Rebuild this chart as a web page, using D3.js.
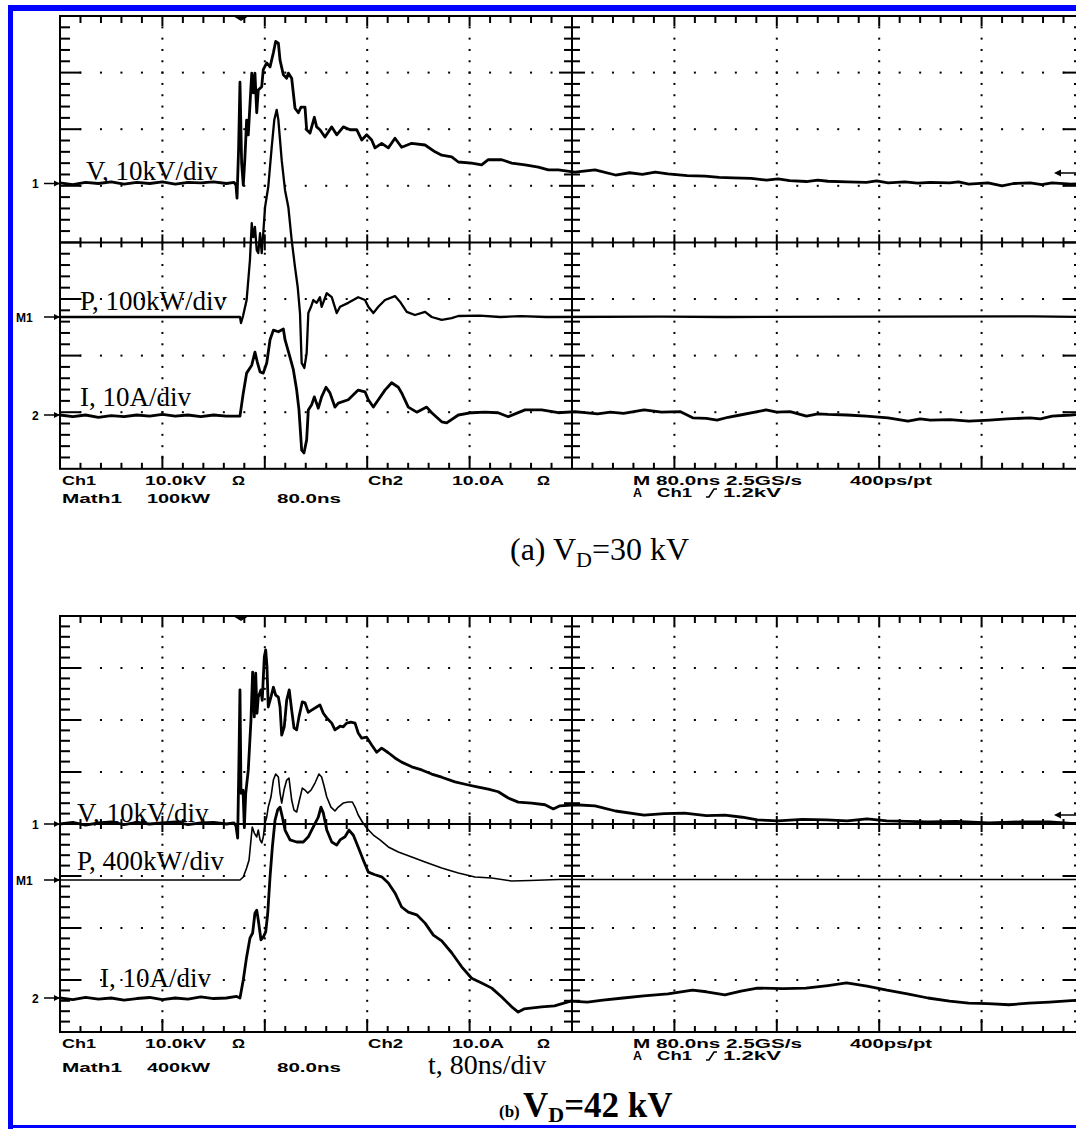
<!DOCTYPE html>
<html><head><meta charset="utf-8">
<script src="https://cdn.jsdelivr.net/npm/d3@7"></script>
<style>body{margin:0;background:#fff}svg{display:block}</style>
</head><body><svg id="c" width="1076" height="1129"></svg>
<script>
// ---------- DATA (time in ns, V in kV, P in kW, I in A) ----------
const timeSpan = [0, 800];            // 10 div x 80 ns
const voltsPerDiv = 10, ampsPerDiv = 10;
const powerPerDivA = 100, powerPerDivB = 400;

const vA = [[0,0.1],[10,-0.2],[20,0.2],[30,0],[40,0.3],[50,-0.1],[60,0.2],[70,0],[80,0.3],[90,-0.1],[100,0.2],[110,0.1],[120,0.3],[130,0],[136,0.2],
[137.5,-0.3],[138.3,-2.6],[139.5,5.9],[140.6,17.9],[141.9,3.6],[143.2,-0.3],[144.5,4.7],[145.8,11.2],[147.1,8.6],[149.8,19.5],[151,16],[152.3,19.5],[153.7,12.5],[154.9,16.5],[157.6,17.1],[158.8,20.1],[161.5,21.3],[164.1,20.6],[166.7,23.1],[168.5,25.1],[170.6,24.8],[171.9,21.8],[174.5,19.2],[177.1,18.6],[178.4,19.5],[181,18.6],[183.6,13.3],[186.2,12.5],[188.3,13.5],[191.4,13.5],[192.7,9.5],[195.3,8.9],[198.7,11.7],[200.5,10],[203.1,9.5],[207,8.2],[212.3,10],[216.2,8.6],[221.4,10],[226.6,9.5],[231.8,9.5],[235.7,7.7],[239.6,8.6],[243.5,7.7],[246.1,6.3],[251.3,7.1],[256.5,6.3],[261.7,8],[266.9,6.4],[274.8,7.1],[285.2,6.8],[293,5.6],[298.2,5],[306,4.7],[311.2,3.8],[321.6,3.6],[329.4,3.3],[334.6,4.2],[345.1,4.2],[352.9,3.6],[363.3,3.3],[373.7,2.9],[381.5,2.4],[389.3,2.4],[402.3,2],[418,2.4],[434,1.5],[445,1.9],[455,1.6],[465,2.0],[475,1.7],[490,1.4],[504,1.3],[515,1.1],[526,1],[540,0.9],[552,0.6],[561,0.8],[570,0.5],[583,0.35],[592,0.6],[600,0.4],[615,0.27],[630,0.2],[638,0.45],[647,0.1],[660,0.3],[670,0.05],[680,0.2],[695,0.1],[702,0.3],[710,-0.1],[725,0.1],[736,-0.4],[745,0],[758,0.1],[767,-0.2],[775,0.1],[790,-0.1],[800,0]];

const pA = [[0,0],[140.6,0],[141.4,-10.6],[143,1.8],[145.8,30],[148.4,100.7],[149.8,166],[151,141],[152.3,159],[153.7,118],[154.9,113],[156.3,148],[157.6,113],[158.8,148],[160.2,194],[162.7,230],[165.4,300],[167.4,348],[169.3,366],[170.6,348],[173.2,277],[175.8,224],[178.4,194],[181,136],[183.6,88],[185.7,53],[187.5,7],[188.8,-81],[190.9,-90],[192.7,-64],[194,7],[196.1,18],[197.9,30],[200.5,25],[203.1,35],[204.4,18],[208.4,42],[212.3,35],[216.2,7],[218.8,18],[225.2,25],[233,35],[238.3,30],[240.9,18],[244.8,7],[248.7,18],[253.9,30],[261.7,37],[265.6,27],[270.9,9],[277.3,3.5],[285.2,9],[290.4,0],[298.2,-5],[306,-2],[311.2,1.8],[328,2.6],[343.8,0],[360,1.5],[380,0],[470,0.5],[520,0],[760,1],[800,0]];

const iA = [[0,0],[10,-0.3],[20,0],[30,-0.4],[40,-0.1],[50,-0.3],[60,0],[70,-0.2],[80,0.1],[90,-0.2],[100,0],[110,-0.3],[120,0],[130,-0.2],[140.6,-0.2],[143.2,3.9],[145.8,7.4],[149.8,8.8],[152.3,11.1],[154.1,9.4],[156.3,7.6],[158.8,7.4],[161.5,9.2],[164.1,13.3],[166.7,15],[170.6,14.7],[174.5,15.2],[175.8,13.3],[179.7,10.2],[182.3,8],[184.9,4.4],[186.7,0.9],[188.8,-6.2],[190.6,-6.7],[192.7,-4.4],[194,0.9],[196.6,1.8],[198.7,3.2],[201.8,1.2],[204.4,3.2],[207.8,4.9],[210.9,3.9],[214.8,1.4],[217.4,2.1],[225.2,2.7],[233,4.4],[238.3,4.1],[240.9,2.7],[244.8,1.4],[248.7,2.7],[253.9,4.4],[259.1,5.7],[264.3,4.9],[266.9,3.9],[272.1,1.4],[278.7,0.5],[286.5,1.4],[290.4,0.4],[298.2,-1.2],[302.1,-1.4],[311.2,0],[321.6,0.4],[332,0.5],[342.2,0.4],[350.2,-0.3],[363.3,0.9],[376.3,0.9],[389.3,0.4],[402.3,0.6],[420,0.2],[430,0.5],[440.3,0.3],[456.3,0.9],[470,0.5],[484.4,0.6],[494.3,-0.5],[505,-0.6],[513.3,-0.9],[522,-0.4],[531.3,0],[551.6,0.9],[560,0.5],[570.3,0.6],[583.2,-0.2],[592,0.2],[600,0.1],[614.8,0],[630,-0.2],[646.9,-0.5],[662.5,-1.1],[672,-0.7],[680,-0.9],[695.3,-0.8],[710,-1.1],[726.2,-0.9],[740,-0.7],[757.8,-0.5],[766,-0.7],[775,-0.2],[789.8,0],[800,0.2]];

const vB = [[0,0],[10,0.3],[20,-0.2],[30,0.2],[40,0.4],[50,-0.1],[60,0.3],[70,0],[80,0.2],[90,0.4],[100,-0.1],[110,0.2],[120,0.3],[130,0],[136,0.2],[137.5,-0.4],[138.8,-2.7],[139.8,12.3],[140.6,25.8],[141.4,5.9],[143,6.5],[144,-0.6],[145.1,5.9],[147.1,10.4],[149.2,20],[150.5,29.2],[151.8,20.6],[152.9,29],[153.9,21.3],[154.9,24.4],[157,25.8],[158,23.8],[159.6,32.1],[160.7,33.5],[161.7,30.2],[162.7,22.5],[164.8,24.4],[166.7,26.3],[168.5,24.8],[170.6,24.4],[171.9,22.5],[173.2,17.1],[175.2,18.7],[177.1,23.8],[179.1,25.8],[181,21.9],[182.8,18.5],[184.9,18.1],[186.7,20.6],[189.3,23.5],[191.4,23.3],[194,21.5],[196.6,21.9],[200.5,22.5],[203.1,22.9],[205.7,21.3],[208.4,20.4],[212.3,19.4],[214.8,18.1],[218.8,18.8],[221.3,18.7],[223.9,19.4],[227.3,19.6],[230.5,19.4],[233,17.5],[235.7,16.5],[239.6,16.7],[243.5,15.2],[247.4,13.8],[251.3,14.6],[256.5,13.7],[261.7,12.7],[266.9,11.9],[274.8,11],[282.6,10.4],[290.4,9.6],[298.2,9],[308.6,8.1],[319,7.5],[326.8,7.1],[334.6,6.7],[342.4,6.2],[350.2,5],[358,4.2],[368.5,4],[378.9,3.7],[385.4,2.9],[390.6,3.5],[402.3,3.7],[418,3.5],[434,2.5],[456.3,1.7],[472,2.0],[487.9,2.1],[505,1.6],[519.5,1.7],[533,1.3],[544.9,0.8],[560.9,0.6],[580,0.9],[598.8,0.8],[615,0.6],[630.5,1],[646,0.6],[662,0.5],[678.1,0.4],[700,0.5],[725.8,0.2],[750,0.4],[773,0.4],[790,0.1],[800,0.2]];

const pB = [[0,0],[140.6,0],[143.2,23],[145.8,92],[147.7,154],[149.2,308],[150.2,408],[151.8,361],[153.7,331],[154.9,385],[156.3,308],[157.6,285],[158.8,331],[160.2,438],[161.5,485],[162.7,561],[164.8,638],[166.7,769],[168.5,815],[170.6,792],[171.9,669],[173.2,592],[175,692],[177.1,769],[178.9,784],[181,615],[182.8,538],[184.9,523],[186.7,600],[189.3,707],[191.4,692],[193.5,669],[196.1,692],[199.2,746],[202.3,815],[204.4,792],[206.5,715],[208.4,638],[211.7,561],[214.8,531],[217.4,561],[221.3,592],[225.2,600],[228.4,600],[230.5,561],[233,500],[236.2,446],[239.6,400],[244.8,346],[250,308],[256.5,254],[264.3,215],[274.8,177],[285.2,138],[298.2,92],[311.2,54],[324.2,23],[337.3,15],[352.9,-8],[367.2,-4],[389.3,4],[420,4],[800,4]];

const iB = [[0,0],[10,-0.3],[20,0.1],[30,-0.2],[40,0],[50,-0.4],[60,-0.1],[70,0.1],[80,-0.3],[90,0],[100,-0.2],[110,0.2],[120,-0.1],[130,0],[138,0.3],[140.6,0],[143.2,3.5],[145.8,7.9],[148.4,11.5],[150.5,12.5],[152.3,16.3],[153.7,16.9],[154.9,15],[157,11.2],[158.8,11.7],[160.7,12.7],[162.3,16.3],[164.1,23.3],[165.9,29],[168,34.2],[170.1,36.2],[171.9,36.7],[173.7,34.8],[175.8,32.3],[179.7,30.4],[184.9,30],[190.1,30],[194,31],[197.9,32.9],[201.8,34.8],[203.9,36.7],[205.7,35.6],[208.4,32.3],[212.3,30],[216.2,29.4],[218.8,30.4],[222.7,31],[225.8,32.3],[229.2,31.3],[233,29],[237,26.5],[240.9,24.2],[246.1,23.7],[251.3,23.3],[256.5,22.1],[261.7,20.2],[266.9,17.5],[272.1,16.5],[278.7,16],[285.2,14.4],[291.7,12.1],[298.2,11],[306,8.7],[313.8,6],[321.6,3.8],[329.4,2.9],[337.3,1.9],[345.1,0.2],[352.9,-1.7],[358,-2.7],[362.5,-2.1],[376.3,-1.7],[386.3,-1.5],[399,-0.6],[412,-0.8],[424.2,-0.4],[440,0],[456.1,0.4],[475,0.8],[494.1,1.5],[505,1.2],[519.5,0.6],[532,1.3],[544.9,1.9],[565,1.8],[582.8,1.9],[600,2.4],[614.5,2.9],[630.5,2.3],[646,1.5],[662,0.8],[678.1,0],[695,-0.6],[709.8,-1],[725,-1.1],[741.4,-1.3],[757,-1.0],[773,-0.8],[790,-0.5],[800,-0.4]];

const statusRow1 = ["Ch1","10.0kV","Ω","Ch2","10.0A","Ω","M 80.0ns 2.5GS/s","400ps/pt"];
const statusMathA = ["Math1","100kW","80.0ns"];
const statusMathB = ["Math1","400kW","80.0ns"];
const labelsA = ["V, 10kV/div","P, 100kW/div","I, 10A/div"];
const labelsB = ["V, 10kV/div","P, 400kW/div","I, 10A/div"];

// ---------- LAYOUT ----------
const svg = d3.select('#c');
const X0 = 60, DIVW = 102.4;
const x = d3.scaleLinear().domain(timeSpan).range([X0, X0 + 10*DIVW]);

// blue frame
svg.append('rect').attr('x',8).attr('y',5).attr('width',1068).attr('height',6).attr('fill','#0000ff');
svg.append('rect').attr('x',8).attr('y',5).attr('width',5).attr('height',1124).attr('fill','#0000ff');
svg.append('rect').attr('x',8).attr('y',1125).attr('width',1068).attr('height',3).attr('fill','#0000ff');

function graticule(top, divH) {
  const g = svg.append('g');
  const yd = d3.scaleLinear().domain([0,8]).range([top, top + 8*divH]);
  const bottom = yd(8), cy = yd(4), cx = x(400), right = x(800);
  const dots = [];
  for (let k=1;k<10;k++){ if(k===5) continue; for(let m=1;m<40;m++) dots.push([x(k*80), yd(m/5)]); }
  for (let j=1;j<8;j++){ if(j===4) continue; for(let n=1;n<50;n++) dots.push([x(n*16), yd(j)]); }
  g.selectAll(null).data(dots).join('rect')
    .attr('x',d=>d[0]-1).attr('y',d=>d[1]-1).attr('width',2).attr('height',2).attr('fill','#000');
  const ln = (x1,y1,x2,y2,w)=>g.append('line').attr('x1',x1).attr('y1',y1).attr('x2',x2).attr('y2',y2)
      .attr('stroke','#000').attr('stroke-width',w||2);
  ln(X0, cy, right, cy, 2);
  ln(cx, top, cx, bottom, 2);
  for (let n=1;n<50;n++){
    const xx = x(n*16), major = n%5===0;
    ln(xx, top, xx, top + (major?10:7), 2);
    ln(xx, bottom, xx, bottom - (major?13:6), 2);
    if (n!==25) ln(xx, cy-(major?8:5), xx, cy+(major?8:5), 2);
  }
  for (let m=1;m<40;m++){
    const yy = yd(m/5), major = m%5===0;
    ln(X0, yy, X0 + (major?21:10), yy, 2);
    ln(right, yy, right - (major?21:10), yy, 2);
    if (m!==20) ln(cx-(major?13:8), yy, cx+(major?13:8), yy, 2);
  }
  g.append('rect').attr('x',X0).attr('y',top).attr('width',right-X0).attr('height',bottom-top)
    .attr('fill','none').attr('stroke','#000').attr('stroke-width',2);
  const tx = x(141.4);
  g.append('path').attr('d',`M${tx-8},${top}L${tx+8},${top}L${tx},${top+5}Z`).attr('fill','#000');
  return yd;
}

function trace(data, gnd, perDiv, divH, w) {
  const y = d3.scaleLinear().domain([0, perDiv]).range([gnd, gnd - divH]);
  svg.append('path').datum(data)
    .attr('d', d3.line().x(d=>x(d[0])).y(d=>y(d[1])))
    .attr('fill','none').attr('stroke','#000').attr('stroke-width',w)
    .attr('stroke-linejoin','round');
}

function marker(label, yy, lx) {
  svg.append('text').attr('x',lx).attr('y',yy+4.5).text(label)
    .attr('font-family','Liberation Sans, Arial, sans-serif').attr('font-weight','bold').attr('font-size',12);
  svg.append('line').attr('x1',44).attr('y1',yy).attr('x2',59).attr('y2',yy).attr('stroke','#000').attr('stroke-width',1.5);
  svg.append('path').attr('d',`M60,${yy}L54,${yy-3}L54,${yy+3}Z`).attr('fill','#000');
}
function trigArrow(yy) {
  svg.append('line').attr('x1',1056).attr('y1',yy).attr('x2',1076).attr('y2',yy).attr('stroke','#000').attr('stroke-width',1.5);
  svg.append('path').attr('d',`M1054,${yy}L1061,${yy-3.5}L1061,${yy+3.5}Z`).attr('fill','#000');
}
function serif(txt, xx, yy, size, weight) {
  return svg.append('text').attr('x',xx).attr('y',yy).text(txt)
    .attr('font-family','Liberation Serif, Times New Roman, serif').attr('font-size',size)
    .attr('font-weight',weight||'normal');
}
function status(txt, xx, yy, len) {
  const t = svg.append('text').attr('x',xx).attr('y',yy).text(txt)
    .attr('font-family','Liberation Sans, Arial, sans-serif').attr('font-weight','bold').attr('font-size',12);
  if (len) t.attr('textLength',len).attr('lengthAdjust','spacingAndGlyphs');
}
const statusX = [62,145,232,368,452,537,633,850];
const statusLen = [34,61,13,35,52,13,169,82];
function statusBlock(r1, rA, rM, mathTxt) {
  statusRow1.forEach((s,i)=>status(s, statusX[i], r1, statusLen[i]));
  status('A', 633, rA, 9);
  status('Ch1', 657, rA, 35);
  svg.append('path').attr('d',`M706,${rA}L709,${rA}L714,${rA-8}L717,${rA-8}`).attr('fill','none').attr('stroke','#000').attr('stroke-width',1.6);
  status('1.2kV', 723, rA, 58);
  const mx = [62,147,277], ml = [60,63,64];
  mathTxt.forEach((s,i)=>status(s, mx[i], rM, ml[i]));
}

// ---------- PANEL A ----------
const divHA = 56.6, topA = 16;
graticule(topA, divHA);
trace(vA, 183.5, voltsPerDiv, divHA, 2.8);
trace(pA, 317, powerPerDivA, divHA, 2.3);
trace(iA, 415, ampsPerDiv, divHA, 2.8);
marker('1', 183.5, 32); marker('M1', 317, 16); marker('2', 415, 32);
trigArrow(173);
serif(labelsA[0], 86, 180, 27); serif(labelsA[1], 80, 310, 27); serif(labelsA[2], 80, 406, 27);
statusBlock(484.5, 497, 503, statusMathA);
const capA = serif('(a) V', 510, 560, 32);
capA.append('tspan').text('D').attr('font-size',22).attr('dy',7);
capA.append('tspan').text('=30 kV').attr('dy',-7);

// ---------- PANEL B ----------
const divHB = 52, topB = 616;
graticule(topB, divHB);
trace(vB, 824, voltsPerDiv, divHB, 2.8);
trace(pB, 880, powerPerDivB, divHB, 1.6);
trace(iB, 998, ampsPerDiv, divHB, 2.8);
marker('1', 824, 32); marker('M1', 880, 16); marker('2', 998, 32);
trigArrow(815);
serif(labelsB[0], 77, 822, 27); serif(labelsB[1], 77, 870, 27); serif(labelsB[2], 100, 987, 27);
statusBlock(1047.5, 1060, 1072, statusMathB);
serif('t, 80ns/div', 428, 1074, 28);
serif('(b)', 499, 1117, 17, 'bold');
const capB = serif('V', 523, 1117, 35, 'bold');
capB.append('tspan').text('D').attr('font-size',22).attr('dy',5);
capB.append('tspan').text('=42 kV').attr('dy',-5);
</script></body></html>
